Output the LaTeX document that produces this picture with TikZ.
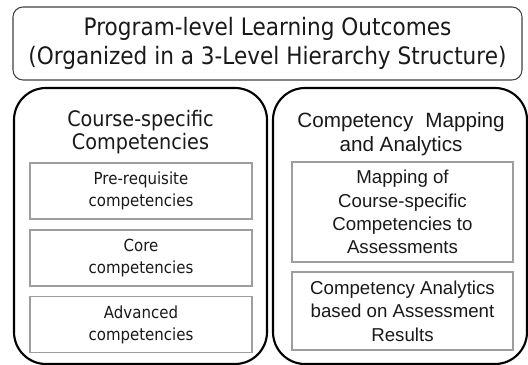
\documentclass[tikz,border=0pt]{standalone}
\usepackage{fontspec}
\setmainfont{DejaVu Sans}[FakeStretch=0.9]
\newfontfamily\arialfont{Liberation Sans}
\begin{document}
\begin{tikzpicture}[x=0.75pt,y=-0.75pt,
  topbox/.style={draw=black!75, line width=0.8pt, rounded corners=7.5pt, minimum width=381.75pt, minimum height=54.75pt, inner sep=0pt},
  outerbox/.style={draw=black, line width=1.6pt, rounded corners=24pt, minimum height=207pt, inner sep=0pt},
  innerbox/.style={draw=black!38, line width=0.8pt, inner sep=0pt, align=center},
  headtxt/.style={align=center, font=\fontsize{16}{17}\selectfont, text=black!90},
  intxt/.style={font=\fontsize{12.5}{16.5}\selectfont, text=black!90},
  rtxt/.style={font=\arialfont\fontsize{14}{17.5}\selectfont, text=black!90}
]
\useasboundingbox (0,0) rectangle (528,364);
\begin{scope}
\clip (0,0) rectangle (528,364);
\node[topbox, align=center, font=\fontsize{18}{22}\selectfont, text=black!90] (top) at (267.5,43.5)
  {Program-level Learning Outcomes\\(Organized in a 3-Level Hierarchy Structure)};
\node[outerbox, minimum width=189.75pt] (left) at (140.5,226) {};
\node[outerbox, minimum width=190.5pt] (right) at (400,226) {};
\node[headtxt] (lhead) at (140.5,132) {Course-specific\\Competencies};
\node[headtxt, font=\arialfont\fontsize{15.5}{18}\selectfont] (rhead) at (401,134) {Competency\hspace{0.3em} Mapping\\and Analytics};
\node[innerbox, intxt, minimum width=166.5pt, minimum height=42pt] (pre) at (141,191) {Pre-requisite\\competencies};
\node[innerbox, intxt, minimum width=166.5pt, minimum height=42pt] (core) at (141,258) {Core\\competencies};
\node[innerbox, intxt, minimum width=166.5pt, minimum height=42pt] (adv) at (141,324.5) {Advanced\\competencies};
\node[innerbox, rtxt, minimum width=165.75pt, minimum height=75pt] (map) at (402.5,212) {Mapping of\\Course-specific\\Competencies to\\Assessments};
\node[innerbox, rtxt, minimum width=165.75pt, minimum height=58.5pt] (ana) at (402.5,311) {Competency Analytics\\based on Assessment\\Results};
\end{scope}
\end{tikzpicture}
\end{document}
